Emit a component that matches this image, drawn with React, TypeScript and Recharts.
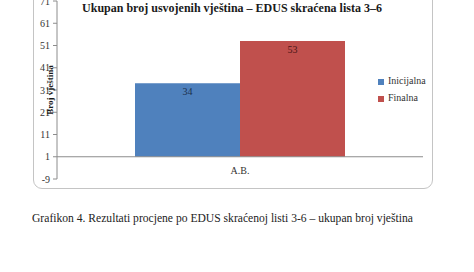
import React from "react";
import {
  BarChart,
  Bar,
  XAxis,
  YAxis,
  Legend,
  LabelList,
  ReferenceLine,
  Label,
} from "recharts";

// values
const categories = ["A.B."];
const seriesNames = ["Inicijalna", "Finalna"];
const inicijalna = [34];
const finalna = [53];
const yTicks = [-9, 1, 11, 21, 31, 41, 51, 61, 71];
const axisCross = 1; // category axis crosses the value axis at 1

const COLORS = ["#4f81bd", "#c0504d"];
const LABEL_COLORS = ["#1c2f4c", "#4a1717"];
const FONT = "'Liberation Serif', 'Times New Roman', serif";

const chartData = categories.map((name, i) => ({
  name,
  [seriesNames[0]]: [axisCross, inicijalna[i]],
  [seriesNames[1]]: [axisCross, finalna[i]],
}));

const topValue = (v: unknown) => (Array.isArray(v) ? v[1] : v);

export default function App() {
  return (
    <div
      style={{
        position: "fixed",
        left: 0,
        top: 0,
        width: 474,
        height: 272,
        background: "#fff",
        overflow: "hidden",
        fontFamily: FONT,
      }}
    >
      {/* chart frame, top edge is cropped off in the source */}
      <div
        style={{
          position: "absolute",
          left: 33,
          top: -20,
          width: 398,
          height: 207,
          border: "1px solid #c4c4c4",
          borderRadius: 9,
        }}
      />
      <div
        style={{
          position: "absolute",
          left: 32,
          width: 400,
          top: 1,
          textAlign: "center",
          fontWeight: "bold",
          fontSize: 12,
          color: "#1a1a1a",
        }}
      >
        Ukupan broj usvojenih vještina – EDUS skraćena lista 3–6
      </div>
      <div style={{ position: "absolute", left: 0, top: 0 }}>
        <BarChart
          width={474}
          height={200}
          data={chartData}
          margin={{ top: 1, right: 51, bottom: 0, left: 0 }}
          barCategoryGap={78}
          barGap={0}
        >
          <XAxis
            dataKey="name"
            axisLine={false}
            tickLine={false}
            tickSize={0}
            tickMargin={0}
            height={21}
            tick={{ fontSize: 10, fill: "#333", fontFamily: FONT, dy: -12 }}
          />
          <YAxis
            width={57}
            domain={[-9, 71]}
            ticks={yTicks}
            interval={0}
            allowDataOverflow
            axisLine={{ stroke: "#8c8c8c" }}
            tickLine={{ stroke: "#8c8c8c" }}
            tickSize={4}
            tickMargin={3}
            tick={{ fontSize: 10, fill: "#333", fontFamily: FONT }}
          >
            <Label
              value="Broj vještina"
              angle={-90}
              position="center"
              dx={21}
              style={{ fontSize: 9, fontWeight: "bold", fill: "#1a1a1a", fontFamily: FONT }}
            />
          </YAxis>
          <ReferenceLine y={axisCross} stroke="#8c8c8c" />
          <Legend
            layout="vertical"
            align="center"
            verticalAlign="middle"
            iconType="square"
            iconSize={6}
            itemSorter={(item: any) => seriesNames.indexOf(item.value)}
            wrapperStyle={{
              left: 378,
              top: 72,
              width: 80,
              fontSize: 10,
              lineHeight: "17px",
              fontFamily: FONT,
            }}
            formatter={(value) => <span style={{ color: "#333" }}>{value}</span>}
          />
          {seriesNames.map((s, i) => (
            <Bar key={s} dataKey={s} fill={COLORS[i]} isAnimationActive={false}>
              <LabelList
                dataKey={s}
                position="insideTop"
                formatter={topValue}
                style={{ fontSize: 10, fill: LABEL_COLORS[i], fontFamily: FONT }}
              />
            </Bar>
          ))}
        </BarChart>
      </div>
      <div
        style={{
          position: "absolute",
          left: 32,
          top: 212,
          fontSize: 11.6,
          color: "#222",
          whiteSpace: "nowrap",
        }}
      >
        Grafikon 4. Rezultati procjene po EDUS skraćenoj listi 3-6 – ukupan broj vještina
      </div>
    </div>
  );
}
